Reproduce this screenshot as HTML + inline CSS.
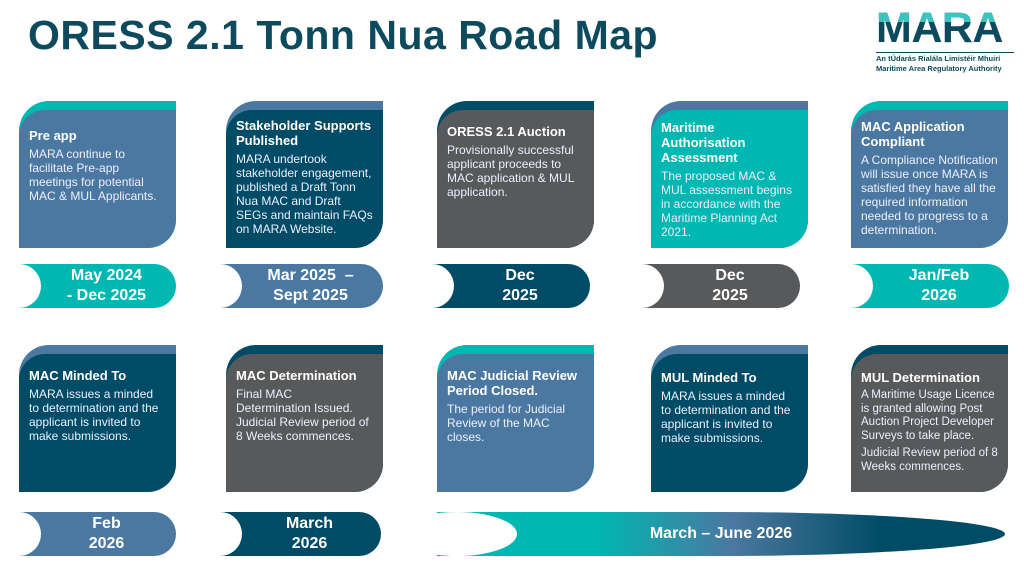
<!DOCTYPE html>
<html><head><meta charset="utf-8"><style>
body{margin:0;width:1024px;height:576px;background:#fff;position:relative;overflow:hidden;font-family:"Liberation Sans",sans-serif}
h1{position:absolute;left:28px;top:12px;margin:0;font-size:41px;font-weight:bold;color:#0e4a5e;letter-spacing:0.5px}
.card{position:absolute;width:157px;height:147px;border-radius:30px 0 28px 0;overflow:hidden}
.card .in{position:absolute;left:0;right:0;top:9px;bottom:0;border-radius:26px 0 28px 0;padding:8px 14px 0 10px;color:#fff;box-sizing:border-box}
.t{font-weight:bold;font-size:13px;line-height:15px;margin-bottom:4px}
.b{font-size:12px;line-height:14px;color:#eef}
.pill{position:absolute;height:44px;border-radius:0 22px 22px 0;overflow:hidden;color:#fff;font-weight:bold;font-size:16px;line-height:20px;text-align:center}
.pill .bite{position:absolute;left:-22px;top:0;width:44px;height:44px;border-radius:50%;background:#fff}
.pill span{position:absolute;left:18px;right:0;top:2px}
.S{background:#4b78a0}.D{background:#004c66}.G{background:#58595b}.T{background:#00b7b2}
</style></head><body>
<h1>ORESS 2.1 Tonn Nua Road Map</h1>
<div style="position:absolute;left:876px;top:8px;width:138px;">
<div style="position:relative;height:38px;overflow:hidden">
<div style="position:absolute;top:-3px;font-size:43px;font-weight:bold;line-height:46px;letter-spacing:-0.5px;color:#0e4a5e">MARA</div>
<div style="position:absolute;top:0;height:14px;overflow:hidden"><div style="margin-top:-3px;font-size:43px;font-weight:bold;line-height:46px;letter-spacing:-0.5px;color:#3cc4c0">MARA</div></div>
</div>
<div style="border-top:1px solid #0e4a5e;margin-top:6px;font-size:7.5px;font-weight:bold;color:#0e4a5e;line-height:10px;padding-top:1px">An tÚdarás Rialála Limistéir Mhuirí<br>Maritime Area Regulatory Authority</div></div>

<div class="card T" style="left:19px;top:101px"><div class="in S" style="padding-top:18px"><div class="t">Pre app</div><div class="b">MARA continue to facilitate Pre-app meetings for potential MAC &amp; MUL Applicants.</div></div></div>
<div class="card S" style="left:226px;top:101px"><div class="in D" style="padding-top:8px;padding-right:8px"><div class="t">Stakeholder Supports Published</div><div class="b">MARA undertook stakeholder engagement, published a Draft Tonn Nua MAC and Draft SEGs and maintain FAQs on MARA Website.</div></div></div>
<div class="card D" style="left:437px;top:101px"><div class="in G" style="padding-top:14px"><div class="t">ORESS 2.1 Auction</div><div class="b">Provisionally successful applicant proceeds to MAC application &amp; MUL application.</div></div></div>
<div class="card S" style="left:651px;top:101px"><div class="in T" style="padding-top:10px;padding-right:30px"><div class="t">Maritime Authorisation Assessment</div><div class="b" style="margin-right:-16px">The proposed MAC &amp; MUL assessment begins in accordance with the Maritime Planning Act 2021.</div></div></div>
<div class="card T" style="left:851px;top:101px"><div class="in S" style="padding-top:9px;padding-right:34px"><div class="t">MAC Application Compliant</div><div class="b" style="margin-right:-26px">A Compliance Notification will issue once MARA is satisfied they have all the required information needed to progress to a determination.</div></div></div>

<div class="pill T" style="left:19px;top:264px;width:157px"><div class="bite"></div><span>May 2024<br>- Dec 2025</span></div>
<div class="pill S" style="left:220px;top:264px;width:163px"><div class="bite"></div><span>Mar 2025 &nbsp;–<br>Sept 2025</span></div>
<div class="pill D" style="left:432px;top:264px;width:158px"><div class="bite"></div><span>Dec<br>2025</span></div>
<div class="pill G" style="left:642px;top:264px;width:158px"><div class="bite"></div><span>Dec<br>2025</span></div>
<div class="pill T" style="left:851px;top:264px;width:158px"><div class="bite"></div><span>Jan/Feb<br>2026</span></div>

<div class="card S" style="left:19px;top:345px"><div class="in D" style="padding-top:14px"><div class="t">MAC Minded To</div><div class="b">MARA issues a minded to determination and the applicant is invited to make submissions.</div></div></div>
<div class="card D" style="left:226px;top:345px"><div class="in G" style="padding-top:14px"><div class="t">MAC Determination</div><div class="b">Final MAC Determination Issued. Judicial Review period of 8 Weeks commences.</div></div></div>
<div class="card T" style="left:437px;top:345px"><div class="in S" style="padding-top:14px;padding-right:16px"><div class="t">MAC Judicial Review Period Closed.</div><div class="b">The period for Judicial Review of the MAC closes.</div></div></div>
<div class="card S" style="left:651px;top:345px"><div class="in D" style="padding-top:16px"><div class="t">MUL Minded To</div><div class="b">MARA issues a minded to determination and the applicant is invited to make submissions.</div></div></div>
<div class="card D" style="left:851px;top:345px"><div class="in G" style="padding-top:16px;padding-right:6px"><div class="t">MUL Determination</div><div class="b" style="font-size:11.5px;line-height:13.5px">A Maritime Usage Licence is granted allowing Post Auction Project Developer Surveys to take place.</div><div class="b" style="margin-top:4px;font-size:11.5px;line-height:13.5px">Judicial Review period of 8 Weeks commences.</div></div></div>

<div class="pill S" style="left:19px;top:512px;width:157px"><div class="bite"></div><span>Feb<br>2026</span></div>
<div class="pill D" style="left:220px;top:512px;width:161px"><div class="bite"></div><span>March<br>2026</span></div>
<div class="pill" style="left:437px;top:512px;width:568px;border-radius:0 50% 50% 0/0 22px 22px 0;background:linear-gradient(90deg,#00b7b2 0%,#00b7b2 28%,#4b78a0 52%,#004c66 78%,#004c66 100%)"><div class="bite" style="left:-40px;width:120px"></div><span style="top:12px;left:0">March – June 2026</span></div>
</body></html>
